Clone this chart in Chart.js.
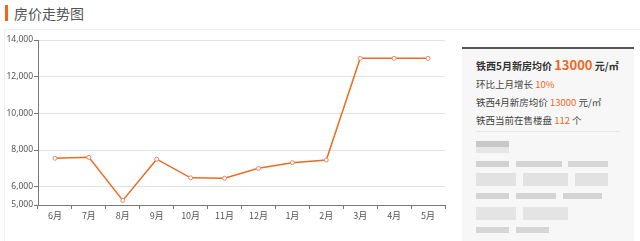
<!DOCTYPE html>
<html><head><meta charset="utf-8">
<script src="https://cdn.jsdelivr.net/npm/chart.js@4"></script>
<style>
html,body{margin:0;padding:0;width:640px;height:241px;overflow:hidden;background:#fff;font-family:"Noto Sans CJK SC","Noto Sans",sans-serif;}
#title{position:absolute;left:5px;top:5px;height:16px;border-left:3px solid #f0661e;padding-left:6px;font-size:14px;line-height:16px;color:#555;}
#box{position:absolute;left:4px;top:29px;width:640px;height:220px;border-left:1px solid #efefef;border-top:1px solid #efefef;}
#wrap{position:absolute;left:0;top:0;width:455px;height:241px;}
#side{position:absolute;left:462px;top:47px;width:172px;height:200px;background:#f7f7f7;border-top:2px solid #555;}
.l{position:absolute;left:14px;font-size:9.5px;line-height:14px;color:#444;white-space:nowrap;}
.o{color:#f0661e;}
.sep{position:absolute;left:14px;top:82px;width:144px;height:1px;background:#e6e6e6;}
.b{position:absolute;}
</style></head><body>
<div id="title">房价走势图</div>
<div id="box"></div>
<div id="wrap"><canvas id="c" width="455" height="241"></canvas></div>
<div id="side">
  <div class="l" style="top:6px;line-height:20px;font-size:10px;font-weight:bold;color:#333;">铁西5月新房均价 <span class="o" style="font-size:13px;">13000</span> 元/㎡</div>
  <div class="l" style="top:28px;">环比上月增长 <span class="o">10%</span></div>
  <div class="l" style="top:46px;">铁西4月新房均价 <span class="o">13000</span> 元/㎡</div>
  <div class="l" style="top:64px;">铁西当前在售楼盘 <span class="o">112</span> 个</div>
  <div class="sep"></div>
  <div class="b" style="left:14px;top:92px;width:33px;height:6px;background:#c8c8c8"></div>
  <div class="b" style="left:14px;top:98px;width:33px;height:6px;background:#e6e6e6"></div>
  <div class="b" style="left:14px;top:112px;width:33px;height:6px;background:#d2d2d2"></div>
  <div class="b" style="left:54px;top:112px;width:46px;height:6px;background:#d4d4d4"></div>
  <div class="b" style="left:106px;top:112px;width:40px;height:6px;background:#d6d6d6"></div>
  <div class="b" style="left:14px;top:124px;width:40px;height:13px;background:#e2e2e2"></div>
  <div class="b" style="left:61px;top:124px;width:45px;height:13px;background:#e2e2e2"></div>
  <div class="b" style="left:113px;top:124px;width:33px;height:13px;background:#e2e2e2"></div>
  <div class="b" style="left:14px;top:144px;width:33px;height:6px;background:#d4d4d4"></div>
  <div class="b" style="left:54px;top:144px;width:40px;height:6px;background:#d4d4d4"></div>
  <div class="b" style="left:101px;top:144px;width:39px;height:6px;background:#d4d4d4"></div>
  <div class="b" style="left:14px;top:158px;width:40px;height:13px;background:#e4e4e4"></div>
  <div class="b" style="left:61px;top:158px;width:45px;height:13px;background:#e4e4e4"></div>
  <div class="b" style="left:14px;top:178px;width:33px;height:6px;background:#d6d6d6"></div>
  <div class="b" style="left:54px;top:178px;width:33px;height:6px;background:#d6d6d6"></div>
</div>
<script>
const months = ["6月","7月","8月","9月","10月","11月","12月","1月","2月","3月","4月","5月"];
const prices = [7550, 7600, 5250, 7500, 6480, 6460, 7000, 7310, 7450, 13000, 13000, 13000];
const yTicks = [5000, 6000, 8000, 10000, 12000, 14000];

new Chart(document.getElementById('c'), {
  type: 'line',
  data: {
    labels: months,
    datasets: [{
      data: prices,
      borderColor: '#ec6a22',
      borderWidth: 1.5,
      pointRadius: 2,
      pointBackgroundColor: '#fff',
      pointBorderColor: '#e8876a',
      pointBorderWidth: 1,
      tension: 0,
      fill: false
    }]
  },
  options: {
    responsive: false,
    animation: false,
    layout: { padding: { top: 40, right: 10, left: 0, bottom: 0 } },
    plugins: { legend: { display: false }, tooltip: { enabled: false } },
    scales: {
      x: {
        offset: true,
        grid: { display: true, drawOnChartArea: false, offset: true, tickLength: 4, tickColor: '#777' },
        border: { color: '#777', width: 1 },
        ticks: { color: '#555', font: { size: 9, family: '"Noto Sans CJK SC", sans-serif' }, padding: 1, maxRotation: 0 },
        afterFit: s => { s.height = 36; }
      },
      y: {
        min: 5000, max: 14000,
        afterBuildTicks: s => { s.ticks = yTicks.map(v => ({ value: v })); },
        grid: { color: '#e2e2e2', tickLength: 4, tickColor: '#777' },
        border: { color: '#777', width: 1 },
        ticks: { color: '#555', font: { size: 8.5, family: '"Noto Sans", sans-serif' }, padding: 1,
          callback: v => v.toLocaleString('en-US') },
        afterFit: s => { s.width = 38; }
      }
    }
  }
});
</script>
</body></html>
